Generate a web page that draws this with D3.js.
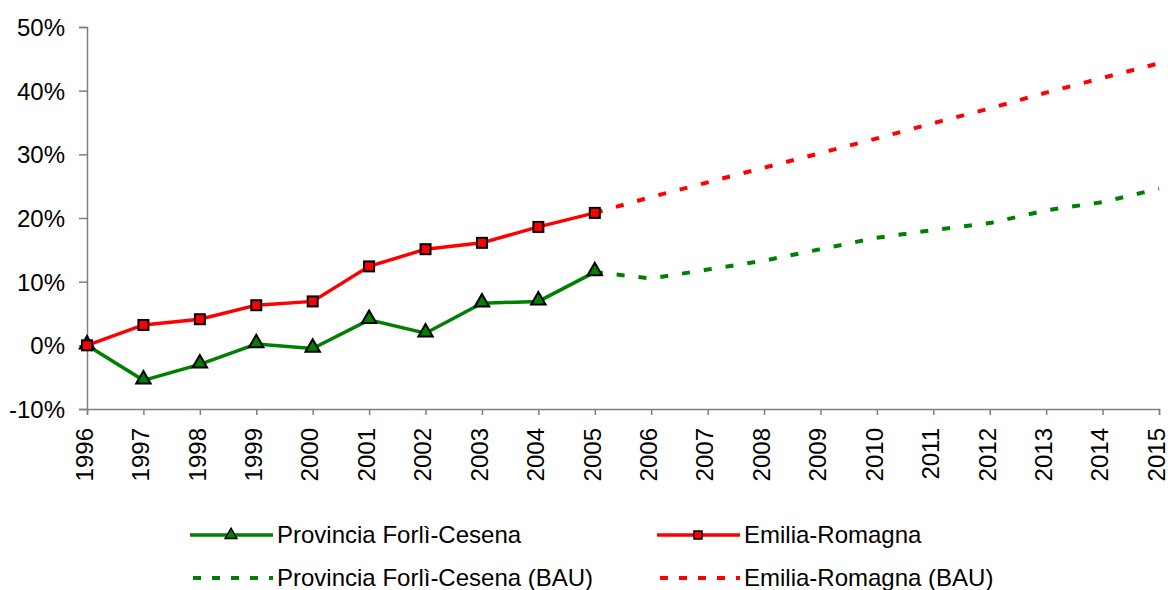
<!DOCTYPE html>
<html>
<head>
<meta charset="utf-8">
<script src="https://cdn.jsdelivr.net/npm/d3@7"></script>
<style>
  body { margin: 0; background: #fff; }
  svg text { font-family: "Liberation Sans", Arial, sans-serif; fill: #000; }
</style>
</head>
<body>
<svg id="chart" width="1168" height="590"></svg>
<script>
// years on the x axis
var years = d3.range(1996, 2016);
var histYears = d3.range(1996, 2006);
var bauYears = d3.range(2005, 2016);

// observed % change vs 1996
var forliCesena = [0, -5.5, -3.0, 0.2, -0.5, 4.0, 1.9, 6.6, 6.9, 11.5];
var emiliaRomagna = [0, 3.2, 4.1, 6.3, 6.9, 12.4, 15.1, 16.1, 18.6, 20.8];

// business-as-usual projections
var forliCesenaBAU = [11.5, 10.5, 11.9, 13.3, 15.1, 16.9, 18.1, 19.2, 21.2, 22.5, 24.6];
var emiliaRomagnaBAU = [20.8, 23.3, 25.6, 27.9, 30.2, 32.5, 34.9, 37.2, 39.7, 42.0, 44.3];

var yTicks = [-10, 0, 10, 20, 30, 40, 50];

var svg = d3.select('#chart');

var x = d3.scaleLinear().domain([1996, 2015]).range([87, 1159]);
var y = d3.scaleLinear().domain([-10, 50]).range([409, 27]);

var green = '#008000', red = '#ff0000', axisCol = '#808080';
var font = '"Liberation Sans", Arial, sans-serif';

// y axis
var yAxis = svg.append('g')
    .attr('transform', 'translate(87,0)')
    .call(d3.axisLeft(y).tickValues(yTicks).tickSize(8).tickPadding(14)
        .tickFormat(function(d) { return d + '%'; }));
yAxis.select('.domain').attr('stroke', axisCol).attr('stroke-width', 1.5);
yAxis.selectAll('.tick line').attr('stroke', axisCol).attr('stroke-width', 1.5);
yAxis.selectAll('.tick text').attr('font-size', 24).attr('dy', '0.35em')
    .style('font-family', font);

// x axis
var xAxis = svg.append('g')
    .attr('transform', 'translate(0,' + y(-10) + ')')
    .call(d3.axisBottom(x).tickValues(years).tickSize(6).tickFormat(d3.format('d')));
xAxis.select('.domain').attr('stroke', axisCol).attr('stroke-width', 1.5);
xAxis.selectAll('.tick line').attr('stroke', axisCol).attr('stroke-width', 1.5);
xAxis.selectAll('.tick text')
    .attr('font-size', 24)
    .attr('transform', 'rotate(-90)')
    .attr('text-anchor', 'end')
    .attr('x', -19)
    .attr('y', 0)
    .attr('dy', '0.22em')
    .style('font-family', font);

var line = d3.line()
    .x(function(d) { return x(d[0]); })
    .y(function(d) { return y(d[1]); });

function zipped(xs, vs) { return xs.map(function(yr, i) { return [yr, vs[i]]; }); }

// dashed projections
svg.append('path').datum(zipped(bauYears, forliCesenaBAU))
    .attr('d', line).attr('fill', 'none').attr('stroke', green)
    .attr('stroke-width', 4).attr('stroke-dasharray', '8,14');
svg.append('path').datum(zipped(bauYears, emiliaRomagnaBAU))
    .attr('d', line).attr('fill', 'none').attr('stroke', red)
    .attr('stroke-width', 4).attr('stroke-dasharray', '8,14');

// solid lines
svg.append('path').datum(zipped(histYears, forliCesena))
    .attr('d', line).attr('fill', 'none').attr('stroke', green).attr('stroke-width', 3.5);
svg.append('path').datum(zipped(histYears, emiliaRomagna))
    .attr('d', line).attr('fill', 'none').attr('stroke', red).attr('stroke-width', 3.5);

var tri = d3.symbol().type(d3.symbolTriangle).size(90);

svg.selectAll('.tri').data(zipped(histYears, forliCesena)).enter()
    .append('path').attr('class', 'tri')
    .attr('d', tri)
    .attr('transform', function(d) { return 'translate(' + x(d[0]) + ',' + (y(d[1]) - 1) + ')'; })
    .attr('fill', green).attr('stroke', '#000').attr('stroke-width', 2);

svg.selectAll('.sq').data(zipped(histYears, emiliaRomagna)).enter()
    .append('rect').attr('class', 'sq')
    .attr('x', function(d) { return x(d[0]) - 5; })
    .attr('y', function(d) { return y(d[1]) - 5; })
    .attr('width', 10).attr('height', 10)
    .attr('fill', red).attr('stroke', '#000').attr('stroke-width', 2);

// legend
var legendItems = [
  {label: 'Provincia Forlì-Cesena', color: green, dash: null, marker: 'tri', x: 190, y: 535},
  {label: 'Emilia-Romagna', color: red, dash: null, marker: 'sq', x: 657, y: 535},
  {label: 'Provincia Forlì-Cesena (BAU)', color: green, dash: '8,11', marker: null, x: 190, y: 578},
  {label: 'Emilia-Romagna (BAU)', color: red, dash: '8,11', marker: null, x: 657, y: 578}
];

var lg = svg.selectAll('.legend').data(legendItems).enter()
    .append('g').attr('class', 'legend')
    .attr('transform', function(d) { return 'translate(' + d.x + ',' + d.y + ')'; });

lg.append('line')
    .attr('x1', function(d) { return d.dash ? 3 : 0; }).attr('x2', 83)
    .attr('stroke', function(d) { return d.color; })
    .attr('stroke-width', function(d) { return d.dash ? 4 : 3.5; })
    .attr('stroke-dasharray', function(d) { return d.dash; });

lg.filter(function(d) { return d.marker === 'tri'; })
    .append('path').attr('d', d3.symbol().type(d3.symbolTriangle).size(60))
    .attr('transform', 'translate(41,0)')
    .attr('fill', green).attr('stroke', '#000').attr('stroke-width', 1.5);

lg.filter(function(d) { return d.marker === 'sq'; })
    .append('rect').attr('x', 37).attr('y', -4).attr('width', 8).attr('height', 8)
    .attr('fill', red).attr('stroke', '#000').attr('stroke-width', 1.5);

lg.append('text')
    .attr('x', 87).attr('dy', '0.35em')
    .attr('font-size', 24)
    .text(function(d) { return d.label; });
</script>
</body>
</html>
